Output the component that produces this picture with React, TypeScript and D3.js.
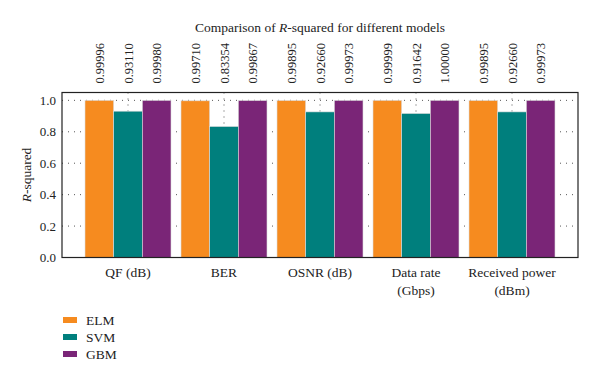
import React from "react";
import * as d3 from "d3";

const categories = ["QF (dB)", "BER", "OSNR (dB)", "Data rate\n(Gbps)", "Received power\n(dBm)"];
const series = ["ELM", "SVM", "GBM"];
const elm = [0.99996, 0.9971, 0.99895, 0.99999, 0.99895];
const svm = [0.9311, 0.83354, 0.9266, 0.91642, 0.9266];
const gbm = [0.9998, 0.99867, 0.99973, 1.0, 0.99973];
const labelText = [
  ["0.99996", "0.93110", "0.99980"],
  ["0.99710", "0.83354", "0.99867"],
  ["0.99895", "0.92660", "0.99973"],
  ["0.99999", "0.91642", "1.00000"],
  ["0.99895", "0.92660", "0.99973"],
];
const yTicks = [0, 0.2, 0.4, 0.6, 0.8, 1.0];
const colors = ["#f68b1f", "#007f7d", "#7a2577"];

const W = 600, H = 379;
const L = 62, R = 578, T = 92.5, B = 257.5;
const FONT = "Liberation Serif";
const ts: React.CSSProperties = { fontFamily: FONT };

export default function App() {
  const values = [elm, svm, gbm];
  const x0 = d3.scaleBand<string>().domain(categories).range([L, R]).paddingInner(0).paddingOuter(0.1875);
  const step = x0.bandwidth();
  const x1 = d3.scaleBand<string>().domain(series).range([5, step - 5]).padding(0);
  const y = d3.scaleLinear().domain([0, 1.05]).range([B, T]);

  return (
    <svg width={W} height={H} style={{ position: "absolute", left: 0, top: 0, background: "#fff", fontFamily: FONT }}>
      <rect x={0} y={0} width={W} height={H} fill="#fff" />
      <text x={(L + R) / 2} y={31.5} textAnchor="middle" fontSize={13.5} fill="#222" style={ts}>
        Comparison of <tspan fontStyle="italic">R</tspan>-squared for different models
      </text>
      {yTicks.slice(1).map((t) => (
        <line key={"h" + t} x1={L} x2={R} y1={y(t)} y2={y(t)} stroke="#555" strokeDasharray="1,5" strokeWidth={1} />
      ))}
      {categories.map((c) => (
        <line key={"v" + c} x1={x0(c)! + step / 2} x2={x0(c)! + step / 2} y1={T} y2={B} stroke="#555" strokeDasharray="1,5" strokeWidth={1} />
      ))}
      {categories.map((c, i) =>
        series.map((s, j) => {
          const v = values[j][i];
          const bx = x0(c)! + x1(s)!;
          return (
            <rect key={c + s} x={bx} y={y(v)} width={x1.bandwidth()} height={B - y(v)} fill={colors[j]} stroke="#ddd" strokeWidth={0.6} />
          );
        })
      )}
      {categories.map((c, i) =>
        series.map((s, j) => {
          const cx = x0(c)! + x1(s)! + x1.bandwidth() / 2;
          return (
            <text key={"l" + c + s} transform={`translate(${cx + 4.5},83.5) rotate(-90)`} fontSize={12.5} fill="#222" style={ts}>
              {labelText[i][j]}
            </text>
          );
        })
      )}
      <rect x={L} y={T} width={R - L} height={B - T} fill="none" stroke="#222" strokeWidth={1.2} />
      {yTicks.map((t) => (
        <text key={"yt" + t} x={56} y={y(t) + 4.5} textAnchor="end" fontSize={13} fill="#222" style={ts}>
          {t.toFixed(1)}
        </text>
      ))}
      <text transform={`translate(31,${(T + B) / 2}) rotate(-90)`} textAnchor="middle" fontSize={13.5} fill="#222" style={ts}>
        <tspan fontStyle="italic">R</tspan>-squared
      </text>
      {categories.map((c) => (
        <text key={"x" + c} x={x0(c)! + step / 2} y={277} textAnchor="middle" fontSize={13.5} fill="#222" style={ts}>
          {c.split("\n").map((line, k) => (
            <tspan key={k} x={x0(c)! + step / 2} dy={k === 0 ? 0 : 18}>
              {line}
            </tspan>
          ))}
        </text>
      ))}
      {series.map((s, j) => (
        <g key={"lg" + s}>
          <rect x={63} y={317 + j * 17} width={14} height={6} fill={colors[j]} />
          <text x={86} y={324.5 + j * 17} fontSize={13.5} fill="#222" style={ts}>
            {s}
          </text>
        </g>
      ))}
    </svg>
  );
}
